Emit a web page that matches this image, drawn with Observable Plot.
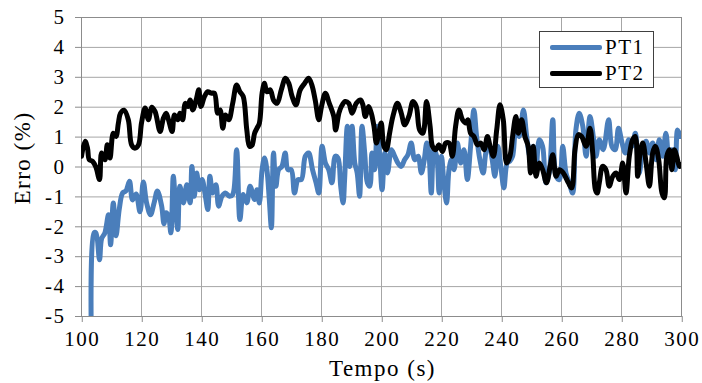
<!DOCTYPE html>
<html>
<head>
<meta charset="utf-8">
<script src="https://cdn.jsdelivr.net/npm/d3@7"></script>
<script src="https://cdn.jsdelivr.net/npm/@observablehq/plot@0.6"></script>
<style>
  html, body { margin: 0; padding: 0; background: #fff; font-family: 'Liberation Serif'; }
  #wrap { position: relative; width: 702px; height: 383px; font-family: 'Liberation Serif'; }
  svg text { font-family: 'Liberation Serif' !important; letter-spacing: 1.5px; }
  svg text.ttl { letter-spacing: 2.2px; }
  #legend { position: absolute; left: 539px; top: 31px; width: 115px; height: 57px; border: 1px solid #404040; background: #fff; box-sizing: border-box; }
  .row { position: absolute; left: 10px; height: 22px; display: flex; align-items: center; font-size: 21px; letter-spacing: 1.5px; color: #000; font-family: 'Liberation Serif'; }
  .sw { width: 52px; height: 5px; margin-right: 3px; border-radius: 2px; }
</style>
</head>
<body>
<div id="wrap"></div>
<script>
const FONT = "Liberation Serif";
const seriesNames = ["PT1", "PT2"];
const seriesColors = ["#4a7ebb", "#000000"];
const xTicks = [100, 120, 140, 160, 180, 200, 220, 240, 260, 280, 300];
const yTicks = [-5, -4, -3, -2, -1, 0, 1, 2, 3, 4, 5];

const t1 = [103.2,104.2,104.8,106,106.7,107.8,109,109.7,110.6,111.5,112.6,113.7,114.8,116,117,118.2,119.5,120.6,121.7,123,124.2,125.3,126.7,127.5,128.2,129,129.8,130.6,131.3,132.1,132.8,134,135.1,136.2,136.8,137.6,138.4,139.3,140.2,141.3,142.1,142.8,143.7,144.8,145.7,146.8,148,149.3,150.4,151.7,152.8,153.9,155.1,156.2,157.7,158.5,159.3,160.2,161,161.8,162.6,163.3,164,164.8,165.7,166.8,167.9,168.8,169.9,171,172.2,173.3,174.6,175.7,177,178.2,179.1,180.2,181.3,182.4,183.5,184.6,185.5,186.4,187.2,187.7,188.6,189.4,190.2,191.1,191.9,192.7,193.5,194.4,195.3,196.1,196.8,197.7,198.6,199.4,200.2,201.1,202,203.3,204.4,205.5,206.6,207.7,208.8,209.9,211.1,212.2,213.3,214.2,215.1,215.8,216.6,217.5,218.4,219.2,220,220.8,221.7,222.5,223.3,224.2,225.3,226.4,227.5,228.6,229.7,230.8,231.7,232.8,233.9,235,235.9,236.9,237.8,238.8,239.9,240.8,241.9,242.8,243.7,244.8,245.9,247.3,248.4,249.5,250.6,251.5,252.6,253.7,254.8,255.9,257.1,258.2,259.3,260.4,261.5,262.6,263.7,264.8,265.9,267.1,268.2,269.5,270.6,271.5,272.6,273.9,275.7,276.8,277.9,279,280.2,281.3,282.4,283.5,284.6,285.9,287.1,288.2,289.3,290.4,291.5,292.6,293.7,294.8,295.9,296.8,297.9,298.7,299.6];
const v1 = [-5.0,-2.2,-2.2,-3.1,-2.4,-2.2,-1.6,-2.6,-1.2,-2.3,-1.4,-0.87,-0.8,-0.48,-1.1,-0.9,-1.5,-0.5,-1.2,-1.6,-1.2,-0.8,-1.3,-1.9,-1.53,-1.64,-2.2,-0.31,-1.2,-2.09,-0.64,-1.2,-0.59,-1.2,0.02,-0.98,-0.2,-0.76,-0.42,-0.98,-1.42,-0.31,-0.87,-0.59,-1.31,-0.98,-0.87,-0.98,-0.92,0.58,-1.76,-0.92,-1.2,-0.64,-1.09,-0.76,-1.2,-0.09,0.3,-0.09,-1.09,-2.03,0.47,-0.64,-0.09,0.02,0.47,-0.09,-0.09,-0.87,-0.42,-0.42,0.36,0.47,-0.09,-0.53,-0.87,0.69,0.13,-0.09,-0.53,0.36,0.3,-0.64,-1.2,-0.42,1.36,0.02,1.36,0.13,-0.2,-0.98,1.36,0.47,-0.53,-0.64,0.47,-0.09,1.36,0.36,-0.76,0.47,-0.2,0.58,0.36,0.13,0.02,0.24,0.41,0.8,0.24,0.36,-0.2,0.2,0.8,0.47,-0.87,0.58,0.36,-0.87,0.36,-0.53,-1.2,-0.09,0.24,-0.09,0.8,0.13,0.58,-0.42,0.69,1.91,1.02,0.24,-0.2,0.58,0.69,0.24,-0.31,0.69,-0.09,-0.7,0.13,0.2,0.36,1.24,1.02,1.91,1.02,0.36,0.69,-0.09,0.91,0.69,-0.53,-0.2,1.58,-0.31,-0.42,0.69,-0.2,-0.53,-0.87,1.24,1.8,1.36,0.36,1.69,1.02,0.36,0.91,0.58,1.58,0.69,0.58,1.3,0.8,0.47,0.91,0.69,1.13,-0.2,0.58,0.86,0.47,0.8,0.24,0.91,0.36,1.13,0.13,0.58,-0.09,1.24,1.02];

const t2 = [100,101.2,102,102.6,103.7,104.8,106,106.7,107.8,108.6,109.5,110.6,111.5,112.3,113,114.2,115.6,116.7,117.8,119,120,121.2,122.3,123.4,124.5,126.2,127.3,128.2,129,130.2,131,132.1,132.8,133.7,134.6,135.4,136.2,137.1,138.2,139.1,139.8,141,142.1,143.2,144.3,145.4,146.2,147.1,148,149.1,150.4,151.7,152.8,153.9,155.1,156,156.8,157.7,158.5,159.3,160.2,161,161.8,162.9,164,165.2,166.6,168,169.1,170.2,171.5,172.9,174.4,175.7,176.8,177.9,179.1,180,181.3,182.6,184.1,184.7,185.8,186.6,187.9,189.1,190.2,191.6,193,193.8,194.6,195.7,196.6,197.5,198.3,199.1,199.9,200.8,201.6,202.7,203.8,205.3,206.6,207.7,209.1,210.5,211.6,212.7,213.8,215,216.2,217,218.1,219.2,220.3,221.4,222.5,223.6,224.7,225.8,227,228.1,228.8,229.7,230.8,232,233.1,234.2,235.3,236.2,237.3,238.4,239.5,240.6,241.7,242.8,243.7,244.8,245.6,246.7,247.8,248.9,249.7,250.6,251.5,252.6,253.7,255,256.2,257.1,258.2,259.3,260.6,262.3,263.4,264.5,265.6,266.7,268.2,269.5,270.4,271.3,271.9,272.6,273.7,274.8,275.9,277.1,278.2,279.3,280.4,281.5,282.6,283.7,284.6,285.4,286.2,287.1,288.2,289.3,290.4,291.3,292.4,293.5,294.3,295.1,296,296.8,297.6,298.4,299.3,299.8];
const v2 = [0.36,0.86,0.63,0.24,0.19,0.0,-0.42,0.47,0.24,0.74,0.3,1.13,1.02,1.47,1.8,1.9,1.58,0.74,0.63,0.74,1.47,1.97,1.58,2.0,1.86,1.19,1.63,1.8,1.58,1.19,1.74,1.58,1.8,1.58,2.13,2.02,2.24,1.91,2.24,2.58,2.02,2.36,2.52,2.47,2.47,1.8,1.91,1.3,1.74,1.58,2.13,2.74,2.52,2.36,1.24,0.69,0.72,1.13,1.3,1.47,2.47,2.8,2.52,2.58,2.24,2.13,2.58,2.97,2.8,2.36,2.08,2.58,2.8,2.97,2.74,2.24,1.58,2.02,2.47,2.13,1.69,1.24,1.8,2.02,2.19,2.13,1.8,2.13,2.24,2.08,1.69,2.02,1.8,1.36,0.8,1.13,1.47,0.69,0.58,1.13,1.69,2.13,1.8,1.41,1.69,2.19,2.02,1.24,1.13,2.19,1.36,0.69,0.58,0.74,0.52,0.8,0.8,0.36,1.36,1.91,1.58,1.47,1.58,1.13,1.02,0.74,0.8,0.58,1.02,0.69,0.36,1.24,2.08,1.58,0.13,0.36,1.02,1.69,1.13,1.58,1.02,0.69,-0.2,0.69,-0.31,0.13,-0.09,-0.53,0.02,0.41,-0.31,-0.09,-0.2,-0.53,-0.7,0.58,1.08,1.02,0.69,1.3,0.47,-0.76,-0.87,-0.53,0.02,-0.09,-0.64,-0.31,-0.2,-0.42,0.13,-0.87,0.36,0.91,1.02,-0.31,0.47,0.8,0.13,-0.64,0.47,0.69,0.24,-0.87,-1.03,0.36,0.58,-0.09,0.58,0.36,0.02,0.08];

const pt1 = t1.map((t, i) => ({t, v: v1[i]}));
const pt2 = t2.map((t, i) => ({t, v: v2[i]}));

const chart = Plot.plot({
  width: 702,
  height: 383,
  marginLeft: 81,
  marginRight: 21,
  marginTop: 17,
  marginBottom: 67,
  style: {fontFamily: FONT, fontSize: "21px", color: "#000", background: "#fff", overflow: "visible"},
  x: {domain: [100, 300]},
  y: {domain: [-5, 5]},
  marks: [
    Plot.gridX(xTicks, {stroke: "#a6a6a6", strokeOpacity: 1, strokeWidth: 1}),
    Plot.gridY(yTicks, {stroke: "#a6a6a6", strokeOpacity: 1, strokeWidth: 1}),
    Plot.frame({stroke: "#8c8c8c", strokeWidth: 1}),
    Plot.line(pt1, {x: "t", y: "v", stroke: seriesColors[0], strokeWidth: 5, curve: "catmull-rom", strokeLinejoin: "round", clip: true}),
    Plot.line(pt2, {x: "t", y: "v", stroke: seriesColors[1], strokeWidth: 5, curve: "catmull-rom", strokeLinejoin: "round", clip: true}),
    Plot.axisX(xTicks, {tickSize: 6, tickPadding: 9, stroke: "#8c8c8c", fontSize: 21, fontFamily: FONT, label: null, dx: 0.75, tickFormat: d => String(d)}),
    Plot.axisY(yTicks, {tickSize: 6, tickPadding: 10, stroke: "#8c8c8c", fontSize: 21, fontFamily: FONT, label: null, tickFormat: d => String(d)}),
    Plot.text(["Tempo (s)"], {frameAnchor: "bottom", dy: 52, dx: 1, fontSize: 23, fontFamily: FONT, textAnchor: "middle", lineAnchor: "middle", className: "ttl"}),
    Plot.text(["Erro (%)"], {frameAnchor: "left", dx: -59, dy: -9, rotate: -90, fontSize: 23, fontFamily: FONT, textAnchor: "middle", lineAnchor: "middle", className: "ttl"})
  ]
});

const wrap = document.getElementById("wrap");
wrap.appendChild(chart);
const legend = document.createElement("div");
legend.id = "legend";
seriesNames.forEach((name, i) => {
  const row = document.createElement("div");
  row.className = "row";
  row.style.top = (i === 0 ? 4 : 30) + "px";
  const sw = document.createElement("div");
  sw.className = "sw";
  sw.style.background = seriesColors[i];
  const label = document.createElement("span");
  label.textContent = name;
  row.appendChild(sw);
  row.appendChild(label);
  legend.appendChild(row);
});
wrap.appendChild(legend);
</script>
</body>
</html>
